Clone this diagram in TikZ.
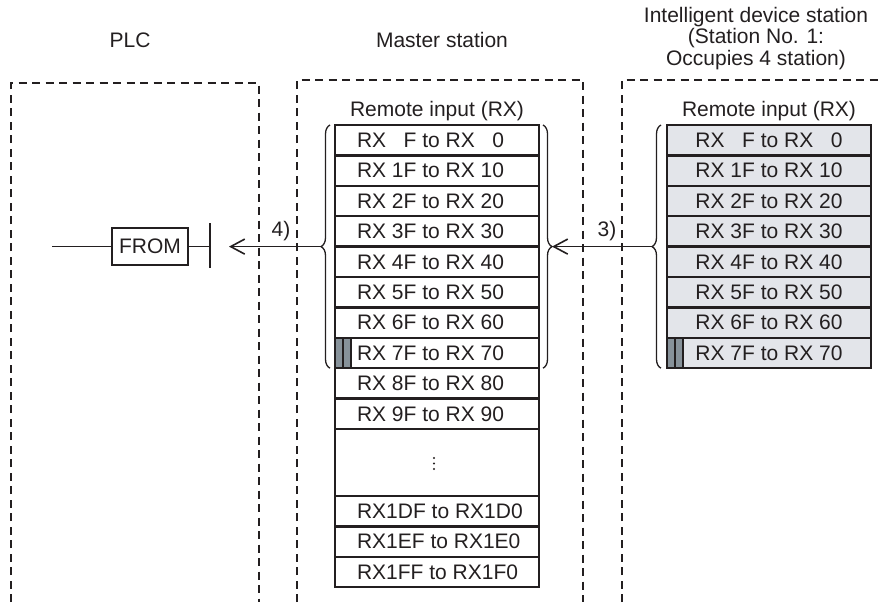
\documentclass[tikz,border=0pt]{standalone}
\usepackage{fontspec}
\setmainfont{Liberation Sans}
\usetikzlibrary{arrows.meta,decorations.pathreplacing}
\definecolor{ink}{HTML}{231F20}
\definecolor{cellgray}{HTML}{E3E5EA}
\definecolor{markgray}{HTML}{87929A}
\newcommand{\lefttext}[1]{\makebox[160pt][l]{#1}}
\begin{document}
\begin{tikzpicture}[x=1pt,y=-1pt,
  every node/.style={font=\fontsize{21}{21}\selectfont, text=ink},
  cell/.style={draw=ink, line width=2.4pt, minimum width=204pt, minimum height=30.4pt,
    inner ysep=0pt, outer sep=0pt, anchor=north west},
  mcell/.style={cell, inner xsep=22pt},
  graycell/.style={cell, inner xsep=0pt, fill=cellgray},
  dashbox/.style={draw=ink, line width=1.9pt, dash pattern=on 8pt off 5.5pt},
  bracestyle/.style={draw=ink, line width=1.3pt, decorate,
    decoration={brace, amplitude=9pt}},
  flow/.style={draw=ink, line width=1.6pt, -{Straight Barb[length=14pt,width=15pt,line width=1.6pt]}},
  wire/.style={draw=ink, line width=1.6pt},
  lbl/.style={anchor=base, align=center}
]
\useasboundingbox (0,0) rectangle (882,602);

% headers
\node[lbl] (hplc) at (130,48) {PLC};
\node[lbl] (hmaster) at (442,48) {Master station};
\node[lbl] (hint1) at (756,23) {Intelligent device station};
\node[lbl] (hint2) at (756,44) {(Station No. 1:};
\node[lbl] (hint3) at (756,65) {Occupies 4 station)};

% dashed boxes
\draw[dashbox] (11,602) -- (11,83) -- (259,83) -- (259,602);
\draw[dashbox] (297,602) -- (297,80) -- (583,80) -- (583,602);
\draw[dashbox] (622,602) -- (622,80) -- (882,80);

% remote input titles
\node[lbl] (mtitle) at (437,116) {Remote input (RX)};
\node[lbl] (ititle) at (769,116) {Remote input (RX)};

% master table
\node[mcell] (m0) at (335,125.0) {\lefttext{RX \hphantom{1}F to RX \hphantom{1}0}};
\node[mcell] (m1) at (335,155.4) {\lefttext{RX 1F to RX 10}};
\node[mcell] (m2) at (335,185.8) {\lefttext{RX 2F to RX 20}};
\node[mcell] (m3) at (335,216.2) {\lefttext{RX 3F to RX 30}};
\node[mcell] (m4) at (335,246.6) {\lefttext{RX 4F to RX 40}};
\node[mcell] (m5) at (335,277.0) {\lefttext{RX 5F to RX 50}};
\node[mcell] (m6) at (335,307.4) {\lefttext{RX 6F to RX 60}};
\node[mcell] (m7) at (335,337.8) {\lefttext{RX 7F to RX 70}};
\node[mcell] (m8) at (335,368.2) {\lefttext{RX 8F to RX 80}};
\node[mcell] (m9) at (335,398.6) {\lefttext{RX 9F to RX 90}};
\node[cell, inner xsep=0pt, minimum height=67pt] (mdots) at (335,429.0) {};
\node[mcell] (m29) at (335,496.0) {\lefttext{RX1DF to RX1D0}};
\node[mcell] (m30) at (335,526.4) {\lefttext{RX1EF to RX1E0}};
\node[mcell] (m31) at (335,556.8) {\lefttext{RX1FF to RX1F0}};
\fill[ink] (434,458) circle (1.2pt) (434,463.5) circle (1.2pt) (434,469) circle (1.2pt);

% intelligent device table
\node[graycell] (i0) at (667,125.0) {RX \hphantom{1}F to RX \hphantom{1}0};
\node[graycell] (i1) at (667,155.4) {RX 1F to RX 10};
\node[graycell] (i2) at (667,185.8) {RX 2F to RX 20};
\node[graycell] (i3) at (667,216.2) {RX 3F to RX 30};
\node[graycell] (i4) at (667,246.6) {RX 4F to RX 40};
\node[graycell] (i5) at (667,277.0) {RX 5F to RX 50};
\node[graycell] (i6) at (667,307.4) {RX 6F to RX 60};
\node[graycell] (i7) at (667,337.8) {RX 7F to RX 70};

% markers on RX 7F rows
\fill[markgray] (336.2,339) rectangle (351,367);
\draw[ink, line width=1.6pt] (343,337.8) -- (343,368.2) (351,337.8) -- (351,368.2);
\fill[markgray] (668.2,339) rectangle (683,367);
\draw[ink, line width=1.6pt] (675,337.8) -- (675,368.2) (683,337.8) -- (683,368.2);

% braces
\draw[bracestyle] (330,368.2) -- (330,125);
\draw[bracestyle] (543,125) -- (543,368.2);
\draw[bracestyle] (661,368.2) -- (661,125);
\coordinate (mltip) at (321,246.6);
\coordinate (mrtip) at (552,246.6);
\coordinate (iltip) at (652,246.6);

% FROM instruction
\node[draw=ink, line width=1.8pt, minimum width=76pt, minimum height=37pt, inner sep=0pt] (from) at (150,246.6) {FROM};
\coordinate (rail) at (52,246.6);
\coordinate (contact) at (210,246.6);
\coordinate (bartop) at (210,223);
\coordinate (barbot) at (210,268);
\draw[wire] (rail) -- (from.west);
\draw[wire] (from.east) -- (contact);
\draw[wire] (bartop) -- (barbot);

% transfers
\coordinate (a4end) at (229,246.6);
\draw[flow] (mltip) -- (a4end);
\draw[flow] (iltip) -- (mrtip);
\node (l4) at (281,231) {4)};
\node (l3) at (607,231) {3)};
\end{tikzpicture}
\end{document}
